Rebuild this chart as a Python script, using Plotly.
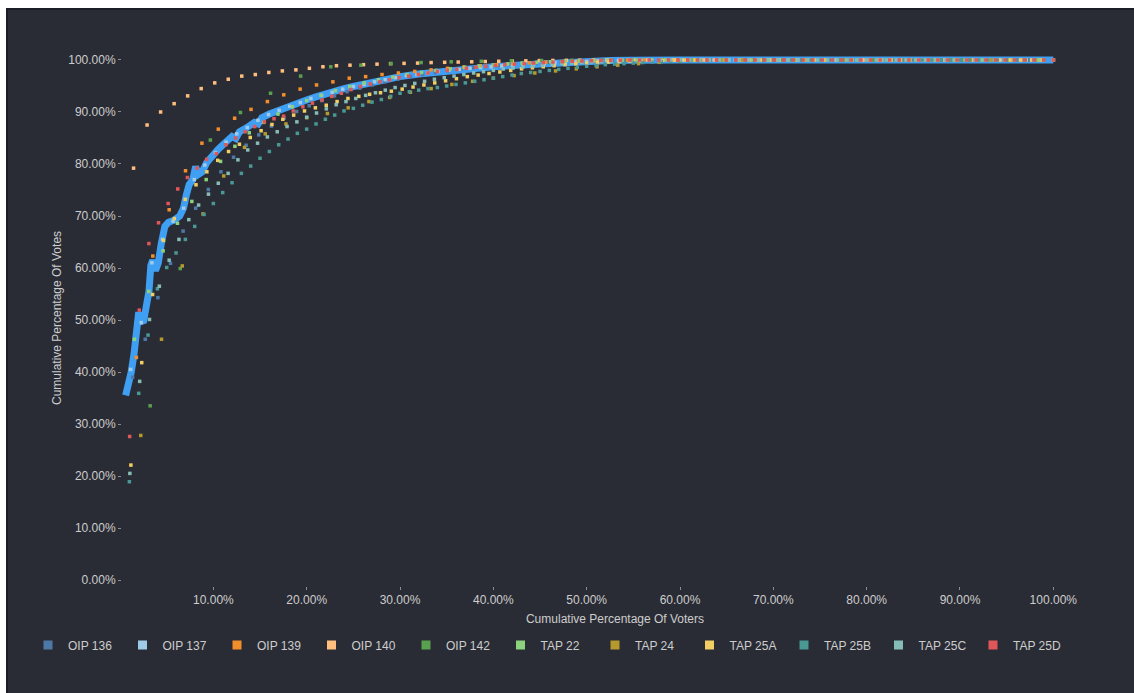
import plotly.graph_objects as go

# Cumulative share of votes (%) for each proposal, voters ranked by voting power.
# Each voter sits at x = rank / voter_count * 100.
OIP_136 = [39.0, 46.3, 54.3, 60.9, 67.1, 71.5, 75.1, 78.5, 81.3, 83.6,
           85.6, 87.3, 88.8, 90.1, 91.2, 92.2, 93.1, 93.9, 94.6, 95.2,
           95.8, 96.3, 96.8, 97.2, 97.6, 97.9, 98.2, 98.5, 98.75, 98.95,
           99.15, 99.3, 99.45, 99.55, 99.65, 99.75, 99.82, 99.88, 99.92, 99.95,
           99.97, 99.99, 100, 100, 100, 100, 100, 100, 100, 100,
           100, 100, 100, 100, 100, 100, 100, 100, 100, 100,
           100, 100, 100, 100, 100, 100, 100, 100, 100, 100,
           100, 100, 100, 100]
OIP_137 = [40.5, 49.5, 61.0, 65.5, 69.0, 71.5, 77.0, 79.8, 82.2, 84.2,
           85.8, 87.0, 88.4, 89.5, 90.3, 91.1, 91.8, 92.6, 93.2, 93.8,
           94.4, 94.9, 95.3, 95.8, 96.2, 96.6, 97.0, 97.2, 97.5, 97.8,
           98.0, 98.2, 98.4, 98.55, 98.7, 98.85, 99.0, 99.15, 99.25, 99.35,
           99.5, 99.6, 99.7, 99.75, 99.82, 99.88, 99.92, 99.95, 99.97, 99.98,
           99.99, 100, 100, 100, 100, 100, 100, 100, 100, 100,
           100, 100, 100, 100, 100, 100, 100, 100, 100, 100,
           100, 100, 100, 100, 100, 100, 100, 100, 100, 100,
           100, 100, 100, 100, 100, 100, 100, 100]
OIP_139 = [42.8, 62.3, 71.2, 78.7, 84.0, 86.7, 88.8, 90.5, 92.0, 93.3,
           94.4, 95.2, 95.8, 96.5, 96.8, 97.2, 97.5, 97.8, 98.1, 98.4,
           98.65, 98.9, 99.1, 99.3, 99.45, 99.6, 99.7, 99.8, 99.88, 99.94,
           99.97, 99.99, 100, 100, 100, 100, 100, 100, 100, 100,
           100, 100, 100, 100, 100, 100, 100, 100, 100, 100,
           100, 100, 100, 100, 100, 100, 100]
OIP_140 = [79.2, 87.5, 90.0, 91.6, 93.1, 94.5, 95.6, 96.3, 96.9, 97.2,
           97.6, 97.9, 98.1, 98.4, 98.7, 98.9, 99.0, 99.1, 99.2, 99.3,
           99.35, 99.4, 99.5, 99.55, 99.6, 99.65, 99.7, 99.75, 99.8, 99.84,
           99.88, 99.91, 99.94, 99.96, 99.98, 99.99, 100, 100, 100, 100,
           100, 100, 100, 100, 100, 100, 100, 100, 100, 100,
           100, 100, 100, 100, 100, 100, 100, 100, 100, 100,
           100, 100, 100, 100, 100, 100, 100, 100, 100]
OIP_142 = [33.5, 59.9, 84.6, 89.9, 93.6, 96.9, 98.7, 99.0, 99.3, 99.5,
           99.65, 99.75, 99.85, 99.9, 99.95, 99.98, 100, 100, 100, 100,
           100, 100, 100, 100, 100, 100, 100, 100, 100, 100,
           100]
TAP_22 = [46.3, 55.5, 63.3, 68.6, 72.8, 77.0, 80.5, 83.4, 86.0, 88.0,
          89.6, 91.0, 92.2, 93.2, 94.1, 94.9, 95.6, 96.2, 96.7, 97.2,
          97.6, 98.0, 98.3, 98.6, 98.85, 99.05, 99.25, 99.4, 99.55, 99.65,
          99.75, 99.85, 99.9, 99.95, 99.98, 100, 100, 100, 100, 100,
          100, 100, 100, 100, 100, 100, 100, 100, 100, 100,
          100, 100, 100, 100, 100, 100, 100, 100, 100, 100,
          100, 100, 100, 100, 100]
TAP_24 = [27.8, 46.3, 60.4, 70.4, 77.7, 83.2, 85.8, 87.7, 88.9, 89.7,
          90.8, 92.0, 92.8, 93.8, 94.5, 95.3, 95.9, 96.5, 97.0, 97.5,
          97.9, 98.3, 98.7, 99.0, 99.3, 99.55, 99.75, 99.9, 99.97, 100,
          100, 100, 100, 100, 100, 100, 100, 100, 100, 100,
          100, 100, 100, 100, 100]
TAP_25A = [22.1, 41.8, 54.9, 65.3, 69.5, 73.2, 76.0, 78.5, 80.7, 82.4,
           83.8, 85.1, 86.4, 87.6, 88.6, 89.4, 90.2, 90.8, 91.3, 92.0,
           92.6, 93.0, 93.4, 93.7, 94.0, 94.4, 94.8, 95.2, 95.6, 96.0,
           96.4, 96.8, 97.1, 97.4, 97.7, 98.0, 98.3, 98.5, 98.7, 98.9,
           99.1, 99.25, 99.4, 99.5, 99.6, 99.7, 99.78, 99.85, 99.9, 99.94,
           99.97, 99.99, 100, 100, 100, 100, 100, 100, 100, 100,
           100, 100, 100, 100, 100, 100, 100, 100, 100, 100,
           100, 100, 100, 100, 100, 100, 100, 100, 100, 100,
           100, 100, 100, 100, 100, 100]
TAP_25B = [18.9, 35.9, 47.1, 56.0, 60.1, 62.9, 65.5, 68.0, 70.3, 72.4,
           74.5, 76.4, 78.2, 79.6, 81.1, 82.4, 83.7, 84.8, 85.9, 86.7,
           87.7, 88.6, 89.4, 90.2, 90.7, 91.3, 91.9, 92.4, 93.0, 93.6,
           93.9, 94.2, 94.5, 94.7, 95.0, 95.3, 95.6, 95.9, 96.2, 96.5,
           96.8, 97.1, 97.4, 97.6, 97.8, 98.0, 98.2, 98.4, 98.6, 98.8,
           98.95, 99.1, 99.2, 99.3, 99.4, 99.5, 99.6, 99.68, 99.75, 99.8,
           99.85, 99.9, 99.93, 99.95, 99.97, 99.98, 99.99, 100, 100, 100,
           100, 100, 100, 100, 100, 100, 100, 100, 100, 100,
           100, 100, 100, 100, 100, 100, 100, 100, 100, 100,
           100, 100, 100, 100, 100, 100, 100, 100, 100, 100]
TAP_25C = [20.5, 38.2, 50.1, 56.5, 61.5, 65.5, 69.3, 72.1, 74.2, 76.3,
           78.2, 80.8, 82.7, 84.0, 85.2, 86.2, 87.2, 88.1, 89.0, 89.8,
           90.6, 91.4, 92.0, 92.6, 93.2, 93.7, 94.2, 94.7, 95.1, 95.5,
           95.9, 96.3, 96.6, 96.9, 97.2, 97.5, 97.75, 98.0, 98.25, 98.45,
           98.65, 98.85, 99.0, 99.15, 99.3, 99.42, 99.53, 99.63, 99.72, 99.8,
           99.86, 99.91, 99.95, 99.97, 99.99, 100, 100, 100, 100, 100,
           100, 100, 100, 100, 100, 100, 100, 100, 100, 100,
           100, 100, 100, 100, 100, 100, 100, 100, 100, 100,
           100, 100, 100, 100, 100, 100, 100, 100, 100, 100,
           100, 100, 100, 100, 100]
TAP_25D = [27.6, 51.9, 64.7, 68.7, 72.4, 75.2, 77.4, 79.2, 80.9, 82.0,
           83.7, 85.0, 86.2, 87.2, 88.1, 88.7, 89.2, 90.2, 91.0, 91.7,
           92.3, 93.0, 93.6, 94.3, 94.9, 95.4, 95.8, 96.2, 96.6, 96.9,
           97.2, 97.5, 97.8, 98.0, 98.2, 98.4, 98.6, 98.8, 98.95, 99.1,
           99.2, 99.3, 99.4, 99.5, 99.6, 99.68, 99.75, 99.82, 99.87, 99.91,
           99.94, 99.96, 99.98, 99.99, 100, 100, 100, 100, 100, 100,
           100, 100, 100, 100, 100, 100, 100, 100, 100, 100,
           100, 100, 100, 100, 100, 100, 100, 100, 100, 100,
           100, 100, 100, 100, 100, 100, 100, 100, 100, 100,
           100, 100, 100, 100, 100, 100, 100]

# Highlighted aggregate curve drawn as a thick line.
TREND_X = [0.6, 0.9, 1.2, 1.5, 1.8, 2.0, 2.2, 2.5, 2.8, 3.1,
           3.3, 3.5, 3.8, 4.1, 4.4, 4.8, 5.2, 5.8, 6.4, 6.8,
           7.1, 7.4, 7.8, 8.1, 8.4, 8.8, 9.3, 9.8, 10.5, 11.2,
           12.0, 12.4, 12.8, 13.6, 14.4, 14.8, 15.2, 16.0, 16.8, 17.6,
           18.4, 19.2, 20.0, 21.0, 22.0, 23.0, 24.0, 25.0, 26.0, 27.0,
           28.0, 29.0, 30.0, 32.0, 34.0, 36.0, 38.0, 40.0, 42.5, 45.0,
           47.5, 50.0, 52.5, 55.0, 57.5, 60.0, 100.0]
TREND_Y = [35.5, 37.5, 40.0, 43.5, 48.0, 51.5, 50.0, 49.5, 52.5, 55.5,
           60.5, 61.5, 59.5, 61.0, 64.5, 68.0, 68.8, 69.2, 70.0, 71.5,
           74.0, 76.0, 77.0, 79.5, 78.0, 78.5, 80.3, 81.5, 82.8, 84.0,
           85.3, 84.9, 86.2, 87.0, 88.0, 87.7, 88.9, 89.6, 90.2, 90.8,
           91.3, 91.8, 92.3, 92.9, 93.5, 94.0, 94.5, 94.9, 95.3, 95.7,
           96.1, 96.5, 96.8, 97.3, 97.7, 98.1, 98.4, 98.7, 99.0, 99.3,
           99.55, 99.75, 99.88, 99.95, 99.98, 100.0, 100.0]

SERIES_NAMES = ["OIP 136", "OIP 137", "OIP 139", "OIP 140", "OIP 142", "TAP 22",
                "TAP 24", "TAP 25A", "TAP 25B", "TAP 25C", "TAP 25D"]
SERIES_VALUES = [OIP_136, OIP_137, OIP_139, OIP_140, OIP_142, TAP_22,
                 TAP_24, TAP_25A, TAP_25B, TAP_25C, TAP_25D]
SERIES_COLORS = ["#4e79a7", "#a0cbe8", "#f28e2b", "#ffbe7d", "#59a14f", "#8cd17d",
                 "#b6992d", "#f1ce63", "#499894", "#86bcb6", "#e15759"]

TICK_VALUES = [0, 10, 20, 30, 40, 50, 60, 70, 80, 90, 100]
TICK_LABELS = ["0.00%", "10.00%", "20.00%", "30.00%", "40.00%", "50.00%",
               "60.00%", "70.00%", "80.00%", "90.00%", "100.00%"]

BG = "#2a2c35"
TEXT = "#cdcdcd"
FONT = "Liberation Sans, Arial, sans-serif"

W, H = 1134, 693
ML, MR, MT, MB = 122, 26, 50, 107

fig = go.Figure()

fig.add_trace(go.Scatter(
    x=TREND_X, y=TREND_Y, mode="lines",
    line=dict(color="#3f9ff2", width=7, shape="linear"),
    showlegend=False, hoverinfo="skip",
))

for name, vals, col in zip(SERIES_NAMES, SERIES_VALUES, SERIES_COLORS):
    n = len(vals)
    xs = [(i + 1) / n * 100 for i in range(n)]
    fig.add_trace(go.Scatter(
        x=xs, y=vals, mode="markers", name=name, legendgroup=name,
        marker=dict(color=col, size=3.5, symbol="square", line=dict(width=0)),
        showlegend=False,
    ))

# legend entries with larger swatches
for name, col in zip(SERIES_NAMES, SERIES_COLORS):
    fig.add_trace(go.Scatter(
        x=[None], y=[None], mode="markers", name=name, legendgroup=name,
        marker=dict(color=col, size=9, symbol="square", line=dict(width=0)),
        showlegend=True,
    ))

PLOT_W = W - ML - MR
PLOT_H = H - MT - MB


def px_x(p):
    return (p - ML) / PLOT_W


def px_y(p):
    return (H - MB - p) / PLOT_H


# page frame: light margin on top/left with a thin dark edge
frame = [
    dict(x0=px_x(-50), x1=px_x(6), y0=px_y(800), y1=px_y(-50), color="#ffffff"),
    dict(x0=px_x(-50), x1=px_x(1200), y0=px_y(8), y1=px_y(-50), color="#ffffff"),
    dict(x0=px_x(6), x1=px_x(8), y0=px_y(800), y1=px_y(8), color="#1c1e25"),
    dict(x0=px_x(6), x1=px_x(1200), y0=px_y(10), y1=px_y(8), color="#1c1e25"),
]
for f in frame:
    fig.add_shape(type="rect", xref="paper", yref="paper",
                  x0=f["x0"], x1=f["x1"], y0=f["y0"], y1=f["y1"],
                  fillcolor=f["color"], line=dict(width=0), layer="above")

axis_common = dict(
    showgrid=False, zeroline=False, showline=False, automargin=False,
    ticks="outside", ticklen=3, tickwidth=1, tickcolor="#8c8c8c",
    tickfont=dict(family=FONT, size=12, color=TEXT),
    tickvals=TICK_VALUES, ticktext=TICK_LABELS,
)

fig.update_layout(
    width=W, height=H, autosize=False,
    margin=dict(l=ML, r=MR, t=MT, b=MB, pad=0, autoexpand=False),
    paper_bgcolor=BG, plot_bgcolor=BG,
    font=dict(family=FONT, size=12, color=TEXT),
    xaxis=dict(range=[0.21, 105.86],
               title=dict(text="Cumulative Percentage Of Voters",
                          font=dict(family=FONT, size=12, color=TEXT), standoff=8),
               **{**axis_common, "tickvals": TICK_VALUES[1:], "ticktext": TICK_LABELS[1:]}),
    yaxis=dict(range=[-1.15, 101.92],
               title=dict(text="Cumulative Percentage Of Votes",
                          font=dict(family=FONT, size=12, color=TEXT), standoff=4),
               **axis_common),
    legend=dict(orientation="h", xref="paper", yref="paper",
                x=px_x(28), y=px_y(645), xanchor="left", yanchor="middle",
                font=dict(family=FONT, size=12, color=TEXT),
                bgcolor="rgba(0,0,0,0)", itemwidth=30,
                entrywidth=49.5, entrywidthmode="pixels",
                tracegroupgap=0, itemclick=False, itemdoubleclick=False),
    showlegend=True,
)

fig.write_html("out.html")
